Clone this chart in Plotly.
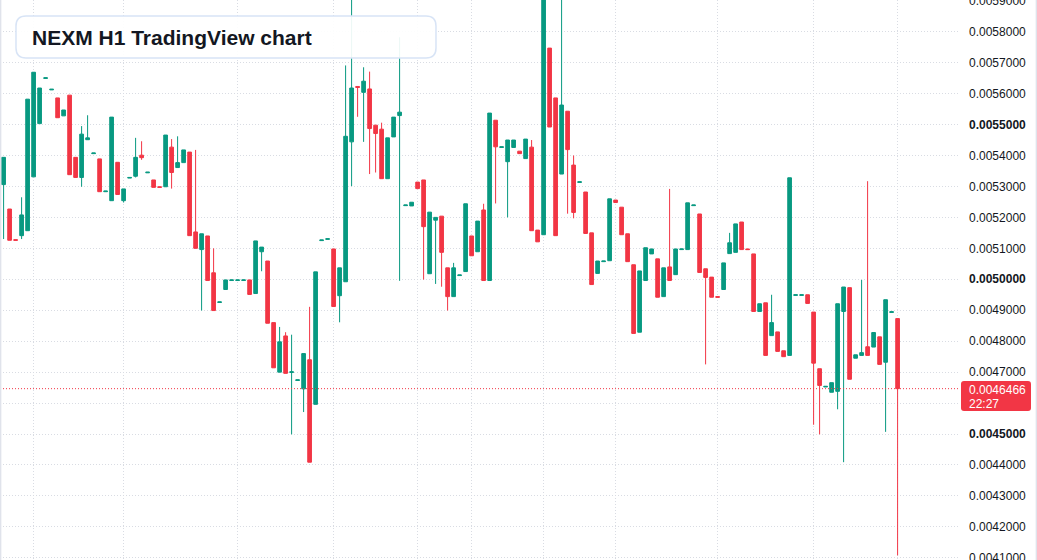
import plotly.graph_objects as go

# ---------------- data ----------------
opens = [0.005306, 0.005227, 0.005128, 0.005141, 0.005157, 0.005331, 0.005503, 0.005649, 0.005612, 0.005586,
         0.005528, 0.005595, 0.005394, 0.005329, 0.005451, 0.005406, 0.005389, 0.005283, 0.005254, 0.005378,
         0.005254, 0.005327, 0.005333, 0.005401, 0.005344, 0.005321, 0.005299, 0.005299, 0.005427, 0.005361,
         0.005377, 0.005411, 0.005153, 0.005096, 0.005140, 0.005021, 0.004925, 0.004967, 0.004996, 0.004996,
         0.004996, 0.004998, 0.004954, 0.005089, 0.005059, 0.004860, 0.004700, 0.004817, 0.004699, 0.004673,
         0.004646, 0.004740, 0.004596, 0.005125, 0.005129, 0.005098, 0.004947, 0.004992, 0.005444, 0.005623,
         0.005604, 0.005615, 0.005498, 0.005485, 0.005325, 0.005460, 0.005529, 0.005238, 0.005237, 0.005314,
         0.005321, 0.005018, 0.005191, 0.005204, 0.005037, 0.004944, 0.005012, 0.005025, 0.005140, 0.005089,
         0.005224, 0.004996, 0.005514, 0.005426, 0.005380, 0.005426, 0.005414, 0.005390, 0.005427, 0.005159,
         0.005144, 0.005747, 0.005586, 0.005340, 0.005543, 0.005369, 0.005313, 0.005282, 0.005150, 0.005019,
         0.005057, 0.005060, 0.005256, 0.005233, 0.005147, 0.005047, 0.004829, 0.004996, 0.005082, 0.005066,
         0.004944, 0.005040, 0.005015, 0.005096, 0.005096, 0.005238, 0.005211, 0.005034, 0.005007, 0.004944,
         0.004967, 0.005083, 0.005087, 0.005185, 0.005098, 0.005082, 0.004896, 0.004924, 0.004818, 0.004830,
         0.004769, 0.004754, 0.004948, 0.004948, 0.004950, 0.004894, 0.004711, 0.004652, 0.004635, 0.004638,
         0.004896, 0.004973, 0.004745, 0.004754, 0.004782, 0.004781, 0.004814, 0.004732, 0.004893, 0.004873]

highs = [0.005395, 0.005227, 0.005128, 0.005265, 0.005582, 0.005669, 0.005618, 0.005651, 0.005614, 0.005586,
         0.005547, 0.005595, 0.005394, 0.005495, 0.005530, 0.005408, 0.005389, 0.005285, 0.005524, 0.005378,
         0.005292, 0.005329, 0.005457, 0.005446, 0.005346, 0.005321, 0.005299, 0.005466, 0.005453, 0.005462,
         0.005418, 0.005411, 0.005418, 0.005147, 0.005140, 0.005100, 0.004927, 0.004998, 0.004998, 0.004998,
         0.004998, 0.004998, 0.005124, 0.005104, 0.005059, 0.004860, 0.004846, 0.004829, 0.004821, 0.004675,
         0.004760, 0.004911, 0.005024, 0.005127, 0.005131, 0.005098, 0.005037, 0.005691, 0.005960, 0.005623,
         0.005685, 0.005671, 0.005498, 0.005506, 0.005457, 0.005524, 0.005782, 0.005240, 0.005249, 0.005314,
         0.005321, 0.005217, 0.005200, 0.005204, 0.005037, 0.005053, 0.005014, 0.005244, 0.005140, 0.005188,
         0.005244, 0.005537, 0.005514, 0.005428, 0.005450, 0.005450, 0.005414, 0.005453, 0.005450, 0.005159,
         0.005960, 0.005747, 0.005586, 0.005960, 0.005543, 0.005400, 0.005315, 0.005282, 0.005150, 0.005059,
         0.005059, 0.005260, 0.005256, 0.005233, 0.005147, 0.005047, 0.005027, 0.005102, 0.005098, 0.005066,
         0.005037, 0.005292, 0.005098, 0.005098, 0.005247, 0.005240, 0.005211, 0.005034, 0.005007, 0.004944,
         0.005053, 0.005150, 0.005179, 0.005185, 0.005098, 0.005082, 0.004921, 0.004924, 0.004950, 0.004830,
         0.004769, 0.005328, 0.004950, 0.004950, 0.004950, 0.004894, 0.004711, 0.004654, 0.004666, 0.004921,
         0.004975, 0.004973, 0.004756, 0.004998, 0.005317, 0.004828, 0.004814, 0.004934, 0.004895, 0.004873]

lows = [0.005130, 0.005126, 0.005126, 0.005130, 0.005157, 0.005331, 0.005503, 0.005649, 0.005612, 0.005522,
        0.005528, 0.005338, 0.005329, 0.005299, 0.005451, 0.005406, 0.005283, 0.005283, 0.005254, 0.005274,
        0.005248, 0.005327, 0.005329, 0.005386, 0.005344, 0.005297, 0.005297, 0.005299, 0.005293, 0.005361,
        0.005377, 0.005141, 0.005100, 0.004899, 0.004996, 0.004899, 0.004925, 0.004967, 0.004996, 0.004996,
        0.004996, 0.004951, 0.004954, 0.005026, 0.004858, 0.004714, 0.004700, 0.004696, 0.004499, 0.004673,
        0.004571, 0.004409, 0.004596, 0.005125, 0.005129, 0.004912, 0.004861, 0.004992, 0.005301, 0.005525,
        0.005444, 0.005340, 0.005345, 0.005325, 0.005325, 0.005460, 0.004995, 0.005238, 0.005237, 0.005293,
        0.004999, 0.005018, 0.004985, 0.004976, 0.004899, 0.004944, 0.005012, 0.005025, 0.005076, 0.005089,
        0.004996, 0.004996, 0.005245, 0.005426, 0.005200, 0.005426, 0.005406, 0.005390, 0.005157, 0.005121,
        0.005144, 0.005492, 0.005141, 0.005340, 0.005212, 0.005197, 0.005313, 0.005148, 0.004983, 0.005019,
        0.005057, 0.005060, 0.005248, 0.005144, 0.005057, 0.004825, 0.004829, 0.004996, 0.005082, 0.004942,
        0.004944, 0.004996, 0.005015, 0.005096, 0.005096, 0.005238, 0.005022, 0.004725, 0.004942, 0.004942,
        0.004967, 0.005083, 0.005087, 0.005096, 0.005096, 0.004896, 0.004896, 0.004754, 0.004818, 0.004767,
        0.004750, 0.004754, 0.004948, 0.004948, 0.004922, 0.004530, 0.004499, 0.004652, 0.004635, 0.004580,
        0.004409, 0.004677, 0.004745, 0.004754, 0.004754, 0.004781, 0.004725, 0.004507, 0.004893, 0.004108]

closes = [0.005394, 0.005126, 0.005126, 0.005208, 0.005582, 0.005669, 0.005618, 0.005651, 0.005614, 0.005522,
          0.005547, 0.005338, 0.005329, 0.005469, 0.005457, 0.005408, 0.005283, 0.005285, 0.005524, 0.005274,
          0.005292, 0.005329, 0.005394, 0.005393, 0.005346, 0.005297, 0.005297, 0.005466, 0.005345, 0.005377,
          0.005418, 0.005141, 0.005100, 0.005147, 0.004996, 0.004899, 0.004927, 0.004998, 0.004998, 0.004998,
          0.004998, 0.004951, 0.005124, 0.005104, 0.004858, 0.004714, 0.004798, 0.004696, 0.004701, 0.004675,
          0.004760, 0.004409, 0.005024, 0.005127, 0.005131, 0.004912, 0.005037, 0.005462, 0.005618, 0.005620,
          0.005640, 0.005487, 0.005471, 0.005325, 0.005457, 0.005524, 0.005540, 0.005240, 0.005249, 0.005293,
          0.005170, 0.005217, 0.005200, 0.005087, 0.004944, 0.005037, 0.005014, 0.005244, 0.005076, 0.005188,
          0.004996, 0.005537, 0.005428, 0.005428, 0.005450, 0.005450, 0.005406, 0.005453, 0.005157, 0.005121,
          0.005930, 0.005492, 0.005141, 0.005563, 0.005419, 0.005216, 0.005315, 0.005148, 0.004983, 0.005059,
          0.005059, 0.005260, 0.005248, 0.005144, 0.005057, 0.004825, 0.005027, 0.005102, 0.005098, 0.004942,
          0.005037, 0.004996, 0.005098, 0.005098, 0.005247, 0.005240, 0.005022, 0.005006, 0.004942, 0.004942,
          0.005053, 0.005118, 0.005179, 0.005096, 0.005096, 0.004896, 0.004921, 0.004754, 0.004860, 0.004767,
          0.004750, 0.005328, 0.004950, 0.004950, 0.004922, 0.004729, 0.004657, 0.004654, 0.004666, 0.004921,
          0.004975, 0.004677, 0.004756, 0.004763, 0.004754, 0.004828, 0.004725, 0.004934, 0.004895, 0.0046466]

candle_index = list(range(len(opens)))
time_grid_index = [5, 20, 39, 55, 69, 78, 90, 102, 119, 135, 149]
price_ticks = [0.0041, 0.0042, 0.0043, 0.0044, 0.0045, 0.0046, 0.0047, 0.0048, 0.0049, 0.0050,
               0.0051, 0.0052, 0.0053, 0.0054, 0.0055, 0.0056, 0.0057, 0.0058, 0.0059]
major_ticks = [0.0045, 0.0050, 0.0055]
last_price = 0.0046466
last_price_text = "0.0046466"
countdown_text = "22:27"
title_text = "NEXM H1 TradingView chart"

# ---------------- style ----------------
UP = "#089981"
DOWN = "#F23645"
GRID = "#d9dce3"
TEXT = "#131722"
W, H = 1037, 560
PLOT_W = 958
FONT = "Liberation Sans, Arial, sans-serif"

tick_text = []
for v in price_ticks:
    if abs(v - 0.0046) < 1e-9:
        tick_text.append("")  # hidden behind last-price label
    elif any(abs(v - m) < 1e-9 for m in major_ticks):
        tick_text.append("<b>%.7f</b>" % v)
    else:
        tick_text.append("%.7f" % v)

fig = go.Figure(go.Candlestick(
    x=candle_index, open=opens, high=highs, low=lows, close=closes,
    increasing=dict(line=dict(color=UP, width=1), fillcolor=UP),
    decreasing=dict(line=dict(color=DOWN, width=1), fillcolor=DOWN),
    whiskerwidth=0, hoverinfo="skip",
))


def px(x, y):
    return x / PLOT_W, 1 - y / H


def rounded_path(x0, y0, x1, y1, r):
    pts = []
    a = px(x0 + r, y0); pts.append("M%.5f,%.5f" % a)
    b = px(x1 - r, y0); pts.append("L%.5f,%.5f" % b)
    c = px(x1, y0); d = px(x1, y0 + r); pts.append("Q%.5f,%.5f %.5f,%.5f" % (c + d))
    e = px(x1, y1 - r); pts.append("L%.5f,%.5f" % e)
    f = px(x1, y1); g = px(x1 - r, y1); pts.append("Q%.5f,%.5f %.5f,%.5f" % (f + g))
    h = px(x0 + r, y1); pts.append("L%.5f,%.5f" % h)
    i = px(x0, y1); j = px(x0, y1 - r); pts.append("Q%.5f,%.5f %.5f,%.5f" % (i + j))
    k = px(x0, y0 + r); pts.append("L%.5f,%.5f" % k)
    l_ = px(x0, y0); m = px(x0 + r, y0); pts.append("Q%.5f,%.5f %.5f,%.5f" % (l_ + m))
    pts.append("Z")
    return " ".join(pts)


shapes = [
    # current price dotted line
    dict(type="line", xref="paper", yref="y", x0=0, x1=1, y0=last_price, y1=last_price,
         line=dict(color=DOWN, width=1, dash="1px,2px"), layer="above"),
    # last price label box
    dict(type="path", xref="paper", yref="paper", path=rounded_path(961, 381, 1031, 411, 3),
         fillcolor=DOWN, line=dict(width=0), layer="above"),
    # title box
    dict(type="path", xref="paper", yref="paper", path=rounded_path(16, 16, 436, 58, 10),
         fillcolor="rgba(255,255,255,0.92)", line=dict(color="#d8e4f6", width=1.5), layer="above"),
    # outer borders
    dict(type="line", xref="paper", yref="paper", x0=0.6 / PLOT_W, x1=0.6 / PLOT_W, y0=0, y1=1,
         line=dict(color="#e0e3eb", width=1.5), layer="above"),
    dict(type="line", xref="paper", yref="paper", x0=1036.4 / PLOT_W, x1=1036.4 / PLOT_W, y0=0, y1=1,
         line=dict(color="#e0e3eb", width=1.5), layer="above"),
]

annotations = [
    dict(xref="paper", yref="paper", x=30 / PLOT_W, y=1 - 37.5 / H, xanchor="left", yanchor="middle",
         text="<b>%s</b>" % title_text, showarrow=False,
         font=dict(family=FONT, size=21, color=TEXT)),
    dict(xref="paper", yref="paper", x=967 / PLOT_W, y=1 - 389.5 / H, xanchor="left", yanchor="middle",
         text=last_price_text, showarrow=False,
         font=dict(family=FONT, size=12, color="#ffffff")),
    dict(xref="paper", yref="paper", x=967 / PLOT_W, y=1 - 404 / H, xanchor="left", yanchor="middle",
         text=countdown_text, showarrow=False,
         font=dict(family=FONT, size=12, color="#ffffff")),
]

fig.update_layout(
    width=W, height=H,
    margin=dict(l=0, r=W - PLOT_W, t=0, b=0, pad=0),
    paper_bgcolor="white", plot_bgcolor="white",
    showlegend=False, hovermode=False,
    boxgap=0.2, boxgroupgap=0.23,
    shapes=shapes, annotations=annotations,
    xaxis=dict(
        range=[-0.6, -0.6 + PLOT_W / 6.0],
        rangeslider=dict(visible=False),
        tickvals=time_grid_index, showticklabels=False, ticks="",
        showgrid=True, gridcolor=GRID, gridwidth=1, griddash="1px,2px",
        zeroline=False, showline=False, automargin=False,
    ),
    yaxis=dict(
        side="right",
        range=[0.0040930, 0.0059024],
        tickvals=price_ticks, ticktext=tick_text,
        ticks="", ticklabelstandoff=10, ticklabeloverflow="allow",
        tickfont=dict(family=FONT, size=12, color=TEXT),
        showgrid=True, gridcolor=GRID, gridwidth=1, griddash="1px,2px",
        zeroline=False, showline=False, automargin=False,
    ),
)

fig.write_html("out.html")
